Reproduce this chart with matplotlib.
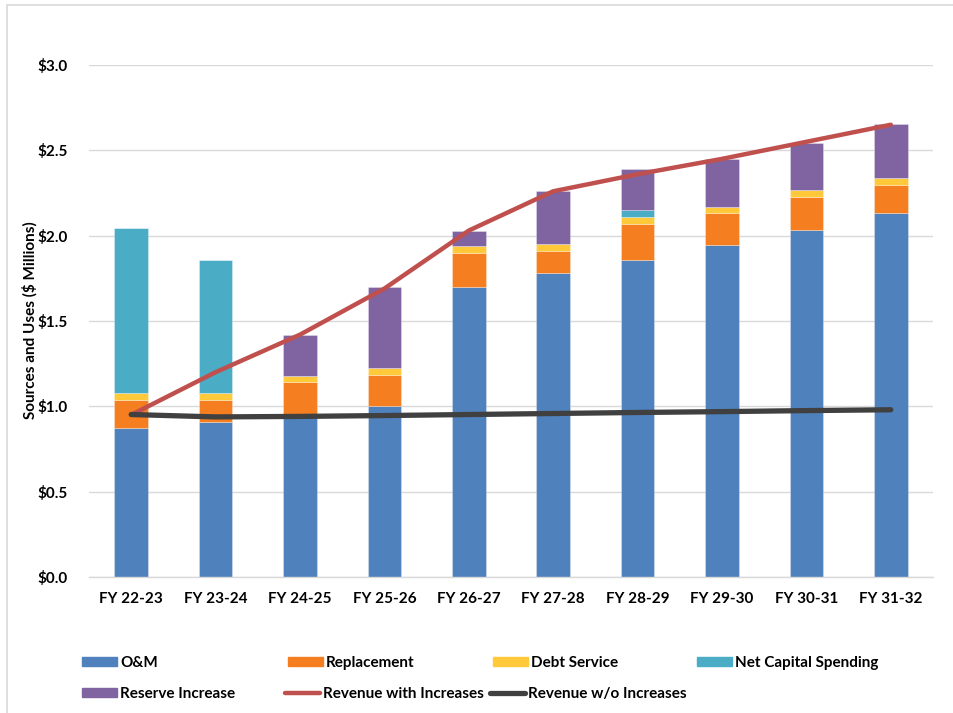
import matplotlib
matplotlib.use("Agg")
import matplotlib.pyplot as plt
from matplotlib.patches import Patch, Rectangle
from matplotlib.lines import Line2D
import numpy as np

plt.rcParams['font.family'] = ['Lato', 'DejaVu Sans']
plt.rcParams['font.weight'] = 'bold'

categories = ["FY 22-23", "FY 23-24", "FY 24-25", "FY 25-26", "FY 26-27",
              "FY 27-28", "FY 28-29", "FY 29-30", "FY 30-31", "FY 31-32"]
om = [0.875, 0.91, 0.95, 1.00, 1.70, 1.78, 1.86, 1.945, 2.035, 2.13]
replacement = [0.165, 0.13, 0.19, 0.185, 0.20, 0.13, 0.21, 0.185, 0.19, 0.165]
debt_service = [0.04, 0.04, 0.04, 0.04, 0.04, 0.04, 0.04, 0.04, 0.04, 0.04]
net_capital = [0.965, 0.775, 0.0, 0.0, 0.0, 0.0, 0.04, 0.0, 0.0, 0.0]
reserve = [0.0, 0.0, 0.24, 0.475, 0.09, 0.31, 0.24, 0.28, 0.28, 0.32]
rev_with = [0.95, 1.20, 1.42, 1.69, 2.03, 2.26, 2.36, 2.45, 2.55, 2.65]
rev_without = [0.952, 0.938, 0.941, 0.946, 0.952, 0.958, 0.964, 0.969, 0.975, 0.98]
yticks = [0.0, 0.5, 1.0, 1.5, 2.0, 2.5, 3.0]
ytick_labels = ["$0.0", "$0.5", "$1.0", "$1.5", "$2.0", "$2.5", "$3.0"]

colors = {
    "O&M": "#4F81BD",
    "Replacement": "#F47E20",
    "Debt Service": "#FFC93A",
    "Net Capital Spending": "#4BACC6",
    "Reserve Increase": "#8064A2",
}
red = "#C0504D"
dark = "#404040"

W, H = 954, 713
fig = plt.figure(figsize=(W / 100, H / 100), dpi=100)
ax = fig.add_axes([89 / W, 1 - 577 / H, (933 - 89) / W, (577 - 65) / H])

x = np.arange(len(categories))
bw = 0.40
bottom = np.zeros(len(categories))
series = [("O&M", om), ("Replacement", replacement), ("Debt Service", debt_service),
          ("Net Capital Spending", net_capital), ("Reserve Increase", reserve)]
for name, vals in series:
    vals = np.array(vals)
    ax.bar(x, vals, bw, bottom=bottom, color=colors[name], edgecolor=(1, 1, 1, 0.35),
           linewidth=0.6, zorder=2)
    bottom += vals

ax.plot(x, rev_with, color=red, lw=3.2, solid_capstyle='round', zorder=3)
ax.plot(x, rev_without, color=dark, lw=3.8, solid_capstyle='round', zorder=3)

ax.set_xlim(-0.5, len(categories) - 0.5)
ax.set_ylim(0, 3.0)
ax.set_yticks(yticks)
ax.set_yticklabels(ytick_labels)
ax.set_xticks(x)
ax.set_xticklabels(categories)
fs = 11
ax.tick_params(axis='both', length=0, labelsize=fs, colors='black')
ax.tick_params(axis='y', pad=15)
ax.tick_params(axis='x', pad=11)
ax.yaxis.grid(True, color='#D9D9D9', lw=1.0, zorder=0)
ax.set_axisbelow(True)
for s in ['top', 'right', 'left']:
    ax.spines[s].set_visible(False)
ax.spines['bottom'].set_color('#D9D9D9')
ax.spines['bottom'].set_linewidth(1.0)

fig.text(30 / W, 1 - 320 / H, "Sources and Uses ($ Millions)", rotation=90,
         ha='center', va='center', fontsize=fs, fontweight='bold')

# chart area border
fig.patches.append(Rectangle((7 / W, -0.1), 1.2, 1 - 5 / H + 0.1, transform=fig.transFigure,
                             fill=False, edgecolor='#D9D9D9', lw=1.2))

# legend entries
fs_px = fs * 100 / 72
entries = [
    (Patch(color=colors["O&M"]), "O&M", 82, 663),
    (Patch(color=colors["Replacement"]), "Replacement", 288, 663),
    (Patch(color=colors["Debt Service"]), "Debt Service", 493, 663),
    (Patch(color=colors["Net Capital Spending"]), "Net Capital Spending", 697, 663),
    (Patch(color=colors["Reserve Increase"]), "Reserve Increase", 82, 694),
    (Line2D([], [], color=red, lw=3.2, solid_capstyle='round'), "Revenue with Increases", 285, 694),
    (Line2D([], [], color=dark, lw=3.8, solid_capstyle='round'), "Revenue w/o Increases", 490, 694),
]
for h, lab, px, py in entries:
    fig.legend([h], [lab], loc='center left', bbox_to_anchor=(px / W, 1 - py / H),
               frameon=False, borderpad=0, borderaxespad=0, handlelength=35 / fs_px,
               handleheight=0.6, handletextpad=3 / fs_px,
               prop={'size': fs, 'weight': 'bold'})

fig.savefig("out.png", dpi=100)
